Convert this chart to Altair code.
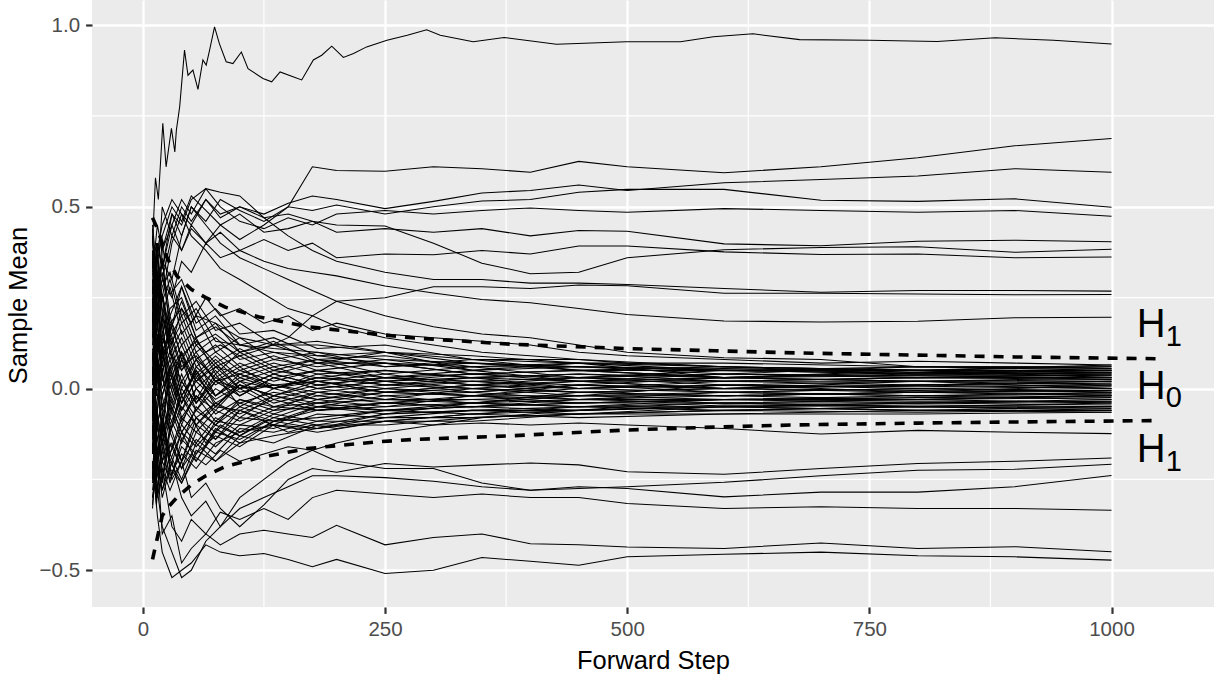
import altair as alt
import pandas as pd

# ---------------- data ----------------
XO = [10, 15, 20, 30, 40, 50, 65, 80, 100, 125, 150, 175, 200, 250, 300, 350, 400, 450, 500, 600, 700, 800, 900, 1000]

TOP_X = [10, 13, 16, 20.6, 24, 29.5, 33, 34.6, 38, 43, 46.6, 51.7, 56.9, 62, 65.4, 68.9, 74, 79, 86, 93,
         101.7, 108.6, 124, 133, 141.7, 155, 164, 176, 184.7, 195, 207, 217.5, 231, 252, 273, 293, 307,
         341, 373, 427, 499, 555, 589, 630, 678, 750, 820, 880, 940, 1000]
TOP_Y = [0.40, 0.58, 0.52, 0.73, 0.61, 0.716, 0.651, 0.711, 0.775, 0.931, 0.862, 0.876, 0.823, 0.904, 0.89,
         0.931, 0.995, 0.949, 0.899, 0.894, 0.926, 0.88, 0.853, 0.844, 0.871, 0.858, 0.849, 0.904, 0.917,
         0.942, 0.911, 0.922, 0.94, 0.958, 0.972, 0.987, 0.972, 0.954, 0.966, 0.947, 0.954, 0.954, 0.968,
         0.976, 0.96, 0.958, 0.955, 0.965, 0.958, 0.948]

OUTER = {
    "A": [0.25, 0.40, 0.33, 0.45, 0.38, 0.44, 0.40, 0.45, 0.41, 0.45, 0.50, 0.61, 0.60, 0.598, 0.61, 0.605, 0.595, 0.625, 0.61, 0.594, 0.61, 0.635, 0.668, 0.688],
    "B": [0.15, 0.32, 0.25, 0.40, 0.48, 0.45, 0.52, 0.47, 0.50, 0.48, 0.51, 0.53, 0.52, 0.495, 0.515, 0.538, 0.545, 0.56, 0.545, 0.566, 0.575, 0.585, 0.605, 0.595],
    "C": [0.05, 0.28, 0.35, 0.30, 0.42, 0.50, 0.46, 0.52, 0.49, 0.46, 0.50, 0.49, 0.505, 0.48, 0.50, 0.516, 0.52, 0.54, 0.548, 0.548, 0.518, 0.515, 0.522, 0.499],
    "D": [0.30, 0.18, 0.38, 0.45, 0.52, 0.48, 0.55, 0.50, 0.46, 0.44, 0.47, 0.45, 0.48, 0.49, 0.48, 0.49, 0.497, 0.49, 0.485, 0.495, 0.49, 0.485, 0.49, 0.474],
    "E": [0.20, 0.35, 0.42, 0.50, 0.46, 0.53, 0.49, 0.45, 0.48, 0.43, 0.44, 0.46, 0.43, 0.44, 0.43, 0.44, 0.42, 0.435, 0.433, 0.398, 0.393, 0.405, 0.408, 0.404],
    "F": [0.45, 0.30, 0.50, 0.42, 0.50, 0.46, 0.52, 0.48, 0.50, 0.47, 0.48, 0.46, 0.45, 0.447, 0.40, 0.345, 0.316, 0.32, 0.36, 0.382, 0.388, 0.39, 0.375, 0.383],
    "G": [0.35, 0.25, 0.30, 0.42, 0.38, 0.45, 0.40, 0.43, 0.38, 0.41, 0.38, 0.40, 0.36, 0.37, 0.368, 0.38, 0.37, 0.392, 0.392, 0.376, 0.369, 0.37, 0.36, 0.362],
    "H": [0.18, 0.40, 0.33, 0.48, 0.45, 0.52, 0.55, 0.54, 0.53, 0.47, 0.42, 0.38, 0.35, 0.32, 0.30, 0.30, 0.29, 0.29, 0.286, 0.275, 0.265, 0.27, 0.27, 0.268],
    "I": [-0.05, 0.15, 0.10, 0.18, 0.12, 0.15, 0.10, 0.12, 0.09, 0.11, 0.14, 0.20, 0.24, 0.25, 0.28, 0.28, 0.275, 0.285, 0.283, 0.262, 0.262, 0.26, 0.258, 0.259],
    "J": [0.38, 0.22, 0.30, 0.25, 0.35, 0.32, 0.40, 0.36, 0.38, 0.35, 0.33, 0.32, 0.31, 0.282, 0.263, 0.245, 0.236, 0.22, 0.204, 0.186, 0.183, 0.185, 0.195, 0.196],
    "K": [0.25, 0.10, 0.20, 0.12, 0.22, 0.18, 0.25, 0.20, 0.22, 0.18, 0.20, 0.16, 0.18, 0.15, 0.14, 0.13, 0.12, 0.10, 0.09, 0.08, 0.07, 0.075, 0.07, 0.065],
    "U1": [0.20, 0.38, 0.45, 0.52, 0.48, 0.42, 0.38, 0.33, 0.30, 0.26, 0.22, 0.20, 0.17, 0.14, 0.12, 0.10, 0.09, 0.08, 0.07, 0.06, 0.055, 0.05, 0.04, 0.045],
    "U2": [0.32, 0.45, 0.38, 0.48, 0.42, 0.50, 0.45, 0.40, 0.36, 0.33, 0.30, 0.27, 0.24, 0.20, 0.17, 0.15, 0.14, 0.12, 0.10, 0.085, 0.08, 0.06, 0.06, 0.055],
    "L1": [-0.10, 0.05, -0.15, -0.05, -0.12, -0.08, -0.15, -0.10, -0.13, -0.09, -0.12, -0.10, -0.11, -0.09, -0.10, -0.095, -0.10, -0.095, -0.10, -0.11, -0.125, -0.115, -0.12, -0.124],
    "L2": [0.05, -0.18, -0.08, -0.25, -0.20, -0.30, -0.26, -0.33, -0.38, -0.32, -0.25, -0.22, -0.23, -0.206, -0.216, -0.21, -0.205, -0.21, -0.229, -0.236, -0.22, -0.206, -0.20, -0.191],
    "L3": [-0.25, -0.10, -0.20, -0.15, -0.22, -0.18, -0.21, -0.17, -0.20, -0.18, -0.16, -0.17, -0.20, -0.22, -0.22, -0.26, -0.28, -0.275, -0.27, -0.258, -0.24, -0.225, -0.222, -0.208],
    "L4": [0.00, -0.20, -0.28, -0.20, -0.30, -0.35, -0.31, -0.38, -0.33, -0.30, -0.27, -0.24, -0.24, -0.245, -0.255, -0.27, -0.28, -0.27, -0.275, -0.298, -0.285, -0.285, -0.27, -0.239],
    "L5": [-0.15, -0.30, -0.22, -0.38, -0.42, -0.36, -0.40, -0.34, -0.36, -0.33, -0.36, -0.30, -0.28, -0.29, -0.30, -0.29, -0.30, -0.30, -0.316, -0.33, -0.325, -0.33, -0.33, -0.335],
    "L6": [-0.30, -0.20, -0.40, -0.35, -0.48, -0.44, -0.40, -0.43, -0.40, -0.39, -0.40, -0.41, -0.376, -0.43, -0.41, -0.40, -0.427, -0.43, -0.436, -0.44, -0.425, -0.44, -0.435, -0.449],
    "L7": [-0.20, -0.35, -0.45, -0.52, -0.50, -0.48, -0.43, -0.45, -0.46, -0.454, -0.47, -0.49, -0.47, -0.509, -0.50, -0.465, -0.475, -0.486, -0.463, -0.456, -0.45, -0.46, -0.463, -0.472],
    "L8": [-0.10, -0.28, -0.38, -0.45, -0.52, -0.50, -0.42, -0.38, -0.30, -0.25, -0.20, -0.17, -0.15, -0.12, -0.10, -0.08, -0.07, -0.06, -0.05, -0.04, -0.045, -0.04, -0.035, -0.04],
}

XC = [10, 14, 20, 28, 40, 55, 75, 100, 135, 180, 250, 340, 450, 600, 800, 1000]
CENTRAL = [
    [0.42, 0.25, 0.32, 0.18, 0.22, 0.12, 0.15, 0.10, 0.12, 0.08, 0.09, 0.06, 0.07, 0.05, 0.06, 0.055],
    [0.38, 0.15, 0.25, 0.10, 0.05, 0.12, 0.06, 0.09, 0.04, 0.07, 0.03, 0.05, 0.02, 0.04, 0.03, 0.04],
    [0.33, 0.40, 0.20, 0.28, 0.15, 0.20, 0.10, 0.14, 0.08, 0.10, 0.06, 0.08, 0.05, 0.06, 0.04, 0.05],
    [0.30, 0.10, 0.18, 0.02, 0.10, 0.00, 0.05, -0.02, 0.03, 0.00, 0.02, -0.01, 0.01, 0.00, 0.02, 0.01],
    [0.27, 0.35, 0.15, 0.22, 0.25, 0.14, 0.18, 0.10, 0.13, 0.07, 0.10, 0.05, 0.07, 0.03, 0.05, 0.03],
    [0.25, 0.05, 0.12, -0.05, 0.04, -0.06, 0.00, -0.04, -0.01, -0.03, 0.00, -0.02, 0.01, -0.01, 0.00, -0.01],
    [0.22, 0.30, 0.08, 0.15, 0.05, 0.10, 0.02, 0.06, 0.00, 0.04, 0.01, 0.03, 0.00, 0.02, 0.01, 0.02],
    [0.20, 0.00, 0.10, 0.12, -0.02, 0.05, -0.05, 0.02, -0.03, 0.00, -0.02, -0.01, -0.03, -0.02, -0.03, -0.02],
    [0.18, 0.28, 0.35, 0.20, 0.28, 0.18, 0.22, 0.15, 0.16, 0.11, 0.12, 0.08, 0.08, 0.06, 0.05, 0.06],
    [0.15, -0.08, 0.05, -0.10, -0.02, -0.08, -0.04, -0.07, -0.03, -0.06, -0.04, -0.05, -0.03, -0.04, -0.05, -0.04],
    [0.12, 0.22, 0.02, 0.08, 0.14, 0.04, 0.09, 0.03, 0.06, 0.02, 0.04, 0.01, 0.03, 0.01, 0.02, 0.00],
    [0.10, -0.12, -0.02, 0.05, -0.08, -0.02, -0.09, -0.04, -0.07, -0.03, -0.05, -0.02, -0.04, -0.03, -0.02, -0.03],
    [0.08, 0.18, 0.26, 0.12, 0.18, 0.08, 0.12, 0.06, 0.09, 0.05, 0.07, 0.04, 0.05, 0.03, 0.04, 0.035],
    [0.05, -0.15, -0.08, -0.18, -0.10, -0.15, -0.08, -0.12, -0.07, -0.09, -0.06, -0.07, -0.05, -0.06, -0.05, -0.055],
    [0.03, 0.12, -0.05, 0.02, -0.06, 0.03, -0.02, 0.02, 0.00, 0.03, 0.01, 0.02, 0.00, 0.01, -0.01, 0.01],
    [0.00, -0.18, -0.12, -0.05, -0.14, -0.08, -0.12, -0.06, -0.09, -0.05, -0.06, -0.04, -0.05, -0.03, -0.04, -0.045],
    [-0.02, 0.08, 0.15, 0.05, 0.10, 0.02, 0.07, 0.00, 0.04, 0.01, 0.03, 0.02, 0.03, 0.02, 0.03, 0.025],
    [-0.05, -0.22, -0.10, -0.20, -0.12, -0.16, -0.10, -0.13, -0.08, -0.10, -0.07, -0.06, -0.06, -0.05, -0.06, -0.06],
    [-0.08, 0.05, -0.02, -0.12, -0.05, -0.10, -0.04, -0.08, -0.02, -0.05, -0.02, -0.04, -0.01, -0.02, -0.01, -0.015],
    [-0.10, -0.25, -0.18, -0.08, -0.15, -0.05, -0.10, -0.03, -0.06, -0.01, -0.03, 0.00, -0.02, 0.01, 0.00, 0.005],
    [-0.12, 0.02, 0.10, 0.00, 0.08, 0.02, 0.06, 0.04, 0.07, 0.04, 0.05, 0.03, 0.04, 0.03, 0.045, 0.04],
    [-0.15, -0.28, -0.20, -0.25, -0.16, -0.20, -0.12, -0.14, -0.09, -0.08, -0.06, -0.05, -0.04, -0.03, -0.03, -0.02],
    [-0.18, -0.05, -0.15, -0.02, -0.10, 0.00, -0.05, 0.01, -0.02, 0.02, 0.00, 0.02, 0.01, 0.03, 0.02, 0.03],
    [-0.20, -0.30, -0.25, -0.15, -0.22, -0.12, -0.16, -0.10, -0.11, -0.07, -0.08, -0.06, -0.07, -0.05, -0.06, -0.05],
    [-0.22, -0.10, -0.05, -0.12, 0.00, -0.06, 0.02, -0.02, 0.03, 0.00, 0.02, 0.00, 0.02, 0.00, 0.01, 0.015],
    [-0.25, -0.12, -0.22, -0.28, -0.20, -0.14, -0.18, -0.11, -0.12, -0.09, -0.09, -0.07, -0.06, -0.05, -0.04, -0.035],
    [-0.28, -0.18, -0.30, -0.22, -0.26, -0.18, -0.13, -0.16, -0.10, -0.11, -0.08, -0.08, -0.07, -0.06, -0.05, -0.06],
    [-0.32, -0.20, -0.10, -0.18, -0.08, -0.12, -0.06, -0.09, -0.05, -0.06, -0.04, -0.03, -0.02, -0.02, -0.01, -0.005],
    [0.40, 0.30, 0.12, 0.20, 0.08, 0.14, 0.04, 0.10, 0.05, 0.08, 0.04, 0.06, 0.03, 0.05, 0.04, 0.045],
    [0.35, 0.20, 0.28, 0.32, 0.20, 0.24, 0.16, 0.18, 0.12, 0.13, 0.10, 0.09, 0.07, 0.06, 0.05, 0.065],
    [0.28, 0.15, 0.05, 0.10, -0.02, 0.04, -0.04, 0.00, -0.05, -0.02, -0.04, -0.02, -0.03, -0.01, -0.02, -0.01],
    [0.16, 0.32, 0.22, 0.10, 0.16, 0.06, 0.10, 0.05, 0.08, 0.06, 0.08, 0.05, 0.06, 0.04, 0.06, 0.05],
    [0.06, -0.02, 0.08, -0.06, 0.02, -0.04, 0.03, -0.01, 0.01, -0.02, 0.00, -0.01, 0.01, 0.00, 0.01, 0.02],
    [-0.04, 0.10, 0.00, 0.06, -0.06, 0.00, -0.07, -0.03, -0.05, -0.04, -0.03, -0.04, -0.02, -0.03, -0.03, -0.025],
    [-0.14, 0.00, -0.10, 0.04, -0.04, 0.06, 0.01, 0.05, 0.02, 0.05, 0.03, 0.04, 0.02, 0.03, 0.02, 0.02],
    [-0.24, -0.08, -0.20, -0.12, -0.02, -0.10, -0.05, -0.06, -0.02, -0.04, -0.01, -0.02, 0.00, -0.01, 0.00, -0.01],
    [0.24, 0.08, -0.02, 0.06, 0.12, 0.03, 0.08, 0.02, 0.05, 0.03, 0.05, 0.03, 0.04, 0.02, 0.03, 0.03],
    [0.14, 0.24, 0.10, 0.16, 0.06, 0.09, 0.02, 0.04, 0.01, 0.02, -0.01, 0.00, -0.01, -0.02, -0.01, -0.02],
    [-0.06, -0.20, -0.28, -0.18, -0.25, -0.15, -0.20, -0.13, -0.15, -0.10, -0.10, -0.08, -0.07, -0.06, -0.065, -0.06],
    [0.02, 0.14, 0.06, 0.18, 0.09, 0.13, 0.07, 0.11, 0.06, 0.08, 0.06, 0.07, 0.05, 0.05, 0.05, 0.045],
    [-0.16, -0.04, 0.04, -0.08, 0.02, -0.04, 0.02, 0.00, 0.01, -0.01, 0.01, 0.00, -0.01, 0.00, -0.01, -0.005],
    [0.36, 0.18, 0.26, 0.14, 0.20, 0.10, 0.14, 0.08, 0.10, 0.07, 0.07, 0.04, 0.05, 0.03, 0.035, 0.03],
    [-0.30, -0.22, -0.14, -0.24, -0.18, -0.22, -0.15, -0.12, -0.10, -0.12, -0.09, -0.07, -0.08, -0.07, -0.07, -0.065],
    [0.19, 0.02, 0.14, 0.08, -0.04, 0.02, -0.03, 0.01, -0.04, -0.01, -0.03, -0.03, -0.04, -0.03, -0.035, -0.035],
    [-0.09, 0.06, -0.06, 0.01, -0.09, -0.02, -0.06, 0.01, -0.02, 0.01, -0.01, 0.01, 0.00, 0.01, 0.005, 0.01],
    [0.44, 0.20, 0.36, 0.15, 0.28, 0.16, 0.20, 0.12, 0.14, 0.09, 0.10, 0.07, 0.06, 0.05, 0.04, 0.04],
    [-0.26, -0.05, -0.25, -0.10, -0.20, -0.08, -0.14, -0.06, -0.10, -0.05, -0.07, -0.04, -0.05, -0.04, -0.04, -0.03],
    [0.32, 0.05, 0.20, -0.04, 0.08, -0.03, 0.06, 0.00, 0.04, 0.01, 0.03, 0.01, 0.02, 0.00, 0.01, 0.00],
    [-0.02, -0.26, -0.06, -0.22, -0.12, -0.20, -0.11, -0.15, -0.09, -0.11, -0.07, -0.06, -0.05, -0.05, -0.045, -0.05],
    [0.26, 0.38, 0.24, 0.30, 0.18, 0.22, 0.13, 0.12, 0.10, 0.09, 0.07, 0.06, 0.06, 0.05, 0.045, 0.05],
    [-0.18, 0.08, -0.12, 0.06, -0.04, 0.05, -0.02, 0.03, 0.00, 0.02, -0.01, 0.01, -0.01, 0.00, -0.005, 0.00],
    [0.11, -0.10, 0.12, -0.02, 0.10, -0.04, 0.04, -0.05, 0.00, -0.03, -0.01, -0.02, -0.02, -0.01, -0.02, -0.015],
    [-0.33, -0.15, -0.26, -0.12, -0.20, -0.10, -0.14, -0.08, -0.09, -0.06, -0.05, -0.04, -0.03, -0.03, -0.025, -0.02],
    [0.21, 0.10, 0.26, 0.16, 0.24, 0.14, 0.17, 0.12, 0.11, 0.10, 0.08, 0.07, 0.06, 0.055, 0.05, 0.05],
    [0.01, 0.20, 0.04, 0.14, 0.00, 0.08, -0.02, 0.04, 0.00, 0.03, 0.02, 0.03, 0.02, 0.02, 0.02, 0.025],
    [-0.12, -0.30, -0.16, -0.26, -0.14, -0.18, -0.09, -0.10, -0.06, -0.05, -0.04, -0.05, -0.04, -0.04, -0.03, -0.04],
    [0.37, 0.25, 0.40, 0.26, 0.30, 0.20, 0.18, 0.14, 0.12, 0.12, 0.10, 0.08, 0.07, 0.07, 0.06, 0.06],
    [-0.07, 0.12, 0.20, 0.10, 0.02, 0.08, 0.03, 0.07, 0.03, 0.05, 0.02, 0.04, 0.03, 0.04, 0.035, 0.035],
    [0.09, -0.06, -0.16, -0.04, -0.12, -0.06, -0.10, -0.05, -0.08, -0.04, -0.06, -0.05, -0.06, -0.045, -0.05, -0.05],
    [-0.21, -0.32, -0.12, -0.20, -0.26, -0.17, -0.20, -0.15, -0.13, -0.11, -0.09, -0.09, -0.07, -0.07, -0.06, -0.065],
]

# dashed boundaries
BX = [10, 15, 20, 25, 35, 50, 65, 85, 120, 170, 240, 280, 380, 500, 590, 675, 800, 900, 1050]
B_UP = [0.47, 0.44, 0.40, 0.36, 0.31, 0.273, 0.25, 0.224, 0.197, 0.17, 0.15, 0.139, 0.122, 0.11, 0.104, 0.098, 0.092, 0.087, 0.082]
B_LO = [-0.47, -0.41, -0.35, -0.33, -0.30, -0.265, -0.24, -0.215, -0.19, -0.165, -0.147, -0.14, -0.13, -0.114, -0.106, -0.10, -0.095, -0.092, -0.088]

# annotations (H with subscripts)
LAB_MAIN = ["H", "H", "H"]
LAB_SUB = ["1", "0", "1"]
LAB_Y = [0.142, -0.0275, -0.202]
SUB_Y = [0.117, -0.052, -0.227]

X_MAJOR = [0, 250, 500, 750, 1000]
X_MINOR = [125, 375, 625, 875]
Y_MAJOR = [-0.5, 0.0, 0.5, 1.0]
Y_MINOR = [-0.25, 0.25, 0.75]

# ---------------- build tables ----------------
rows = []
assert len(TOP_X) == len(TOP_Y)
for x, y in zip(TOP_X, TOP_Y):
    rows.append({"s": "top", "x": x, "y": y})
for k, ys in OUTER.items():
    assert len(ys) == len(XO), k
    for x, y in zip(XO, ys):
        rows.append({"s": k, "x": x, "y": y})
for i, ys in enumerate(CENTRAL):
    assert len(ys) == len(XC), i
    for x, y in zip(XC, ys):
        rows.append({"s": f"c{i}", "x": x, "y": y})
paths = pd.DataFrame(rows)

brows = []
for x, u, l in zip(BX, B_UP, B_LO):
    brows.append({"s": "up", "x": x, "y": u})
    brows.append({"s": "lo", "x": x, "y": l})
bounds = pd.DataFrame(brows)

labels = pd.DataFrame({"x": [1026] * 3, "y": LAB_Y, "t": LAB_MAIN})
subs = pd.DataFrame({"x": [1056] * 3, "y": SUB_Y, "t": LAB_SUB})

xminor = pd.DataFrame({"x": X_MINOR})
yminor = pd.DataFrame({"y": Y_MINOR})

# ---------------- encodings ----------------
FONT = "Liberation Sans"
xscale = alt.Scale(domain=[-52.5, 1105.8], nice=False, zero=False)
yscale = alt.Scale(domain=[-0.601, 1.069], nice=False, zero=False)

axis_common = dict(
    labelFont=FONT, labelFontSize=20.5, labelColor="#4D4D4D",
    titleFont=FONT, titleFontSize=25.5, titleColor="black", titleFontWeight="normal",
    tickColor="#333333", tickSize=6.4, tickWidth=2.2, domain=False,
    grid=True, gridColor="white", gridWidth=2.3, labelPadding=6,
)
xaxis = alt.Axis(values=X_MAJOR, title="Forward Step", titleBaseline="middle", titleY=53.5,
                 format="d", **axis_common)
yaxis = alt.Axis(values=Y_MAJOR, title="Sample Mean", titleBaseline="middle", titleX=-74, titleY=305,
                 labelExpr="datum.value < 0 ? '\u2212' + format(-datum.value, '.1f') : format(datum.value, '.1f')",
                 labelBaseline="middle", **axis_common)


def X(field="x"):
    return alt.X(f"{field}:Q", scale=xscale, axis=xaxis)


def Y(field="y"):
    return alt.Y(f"{field}:Q", scale=yscale, axis=yaxis)


minor_v = alt.Chart(xminor).mark_rule(color="white", strokeWidth=1.15).encode(x=X())
minor_h = alt.Chart(yminor).mark_rule(color="white", strokeWidth=1.15).encode(y=Y())

lines = alt.Chart(paths).mark_line(color="black", strokeWidth=1.05).encode(
    x=X(), y=Y(), detail="s:N"
)
dashed = alt.Chart(bounds).mark_line(color="black", strokeWidth=3.6, strokeDash=[10, 9]).encode(
    x=X(), y=Y(), detail="s:N"
)
htext = alt.Chart(labels).mark_text(font=FONT, fontSize=40, align="left", baseline="alphabetic",
                                    color="black").encode(x=X(), y=Y(), text="t:N")
stext = alt.Chart(subs).mark_text(font=FONT, fontSize=29, align="left", baseline="alphabetic",
                                  color="black").encode(x=X(), y=Y(), text="t:N")

chart = alt.layer(minor_v, minor_h, lines, dashed, htext, stext).properties(
    width=1122, height=607,
    padding={"left": 92, "top": 0, "right": 0, "bottom": 68},
    autosize=alt.AutoSizeParams(type="none"),
    background="white",
).configure_view(fill="#EBEBEB", stroke=None)

chart.save("out.html", embed_options={"renderer": "svg", "actions": False})
